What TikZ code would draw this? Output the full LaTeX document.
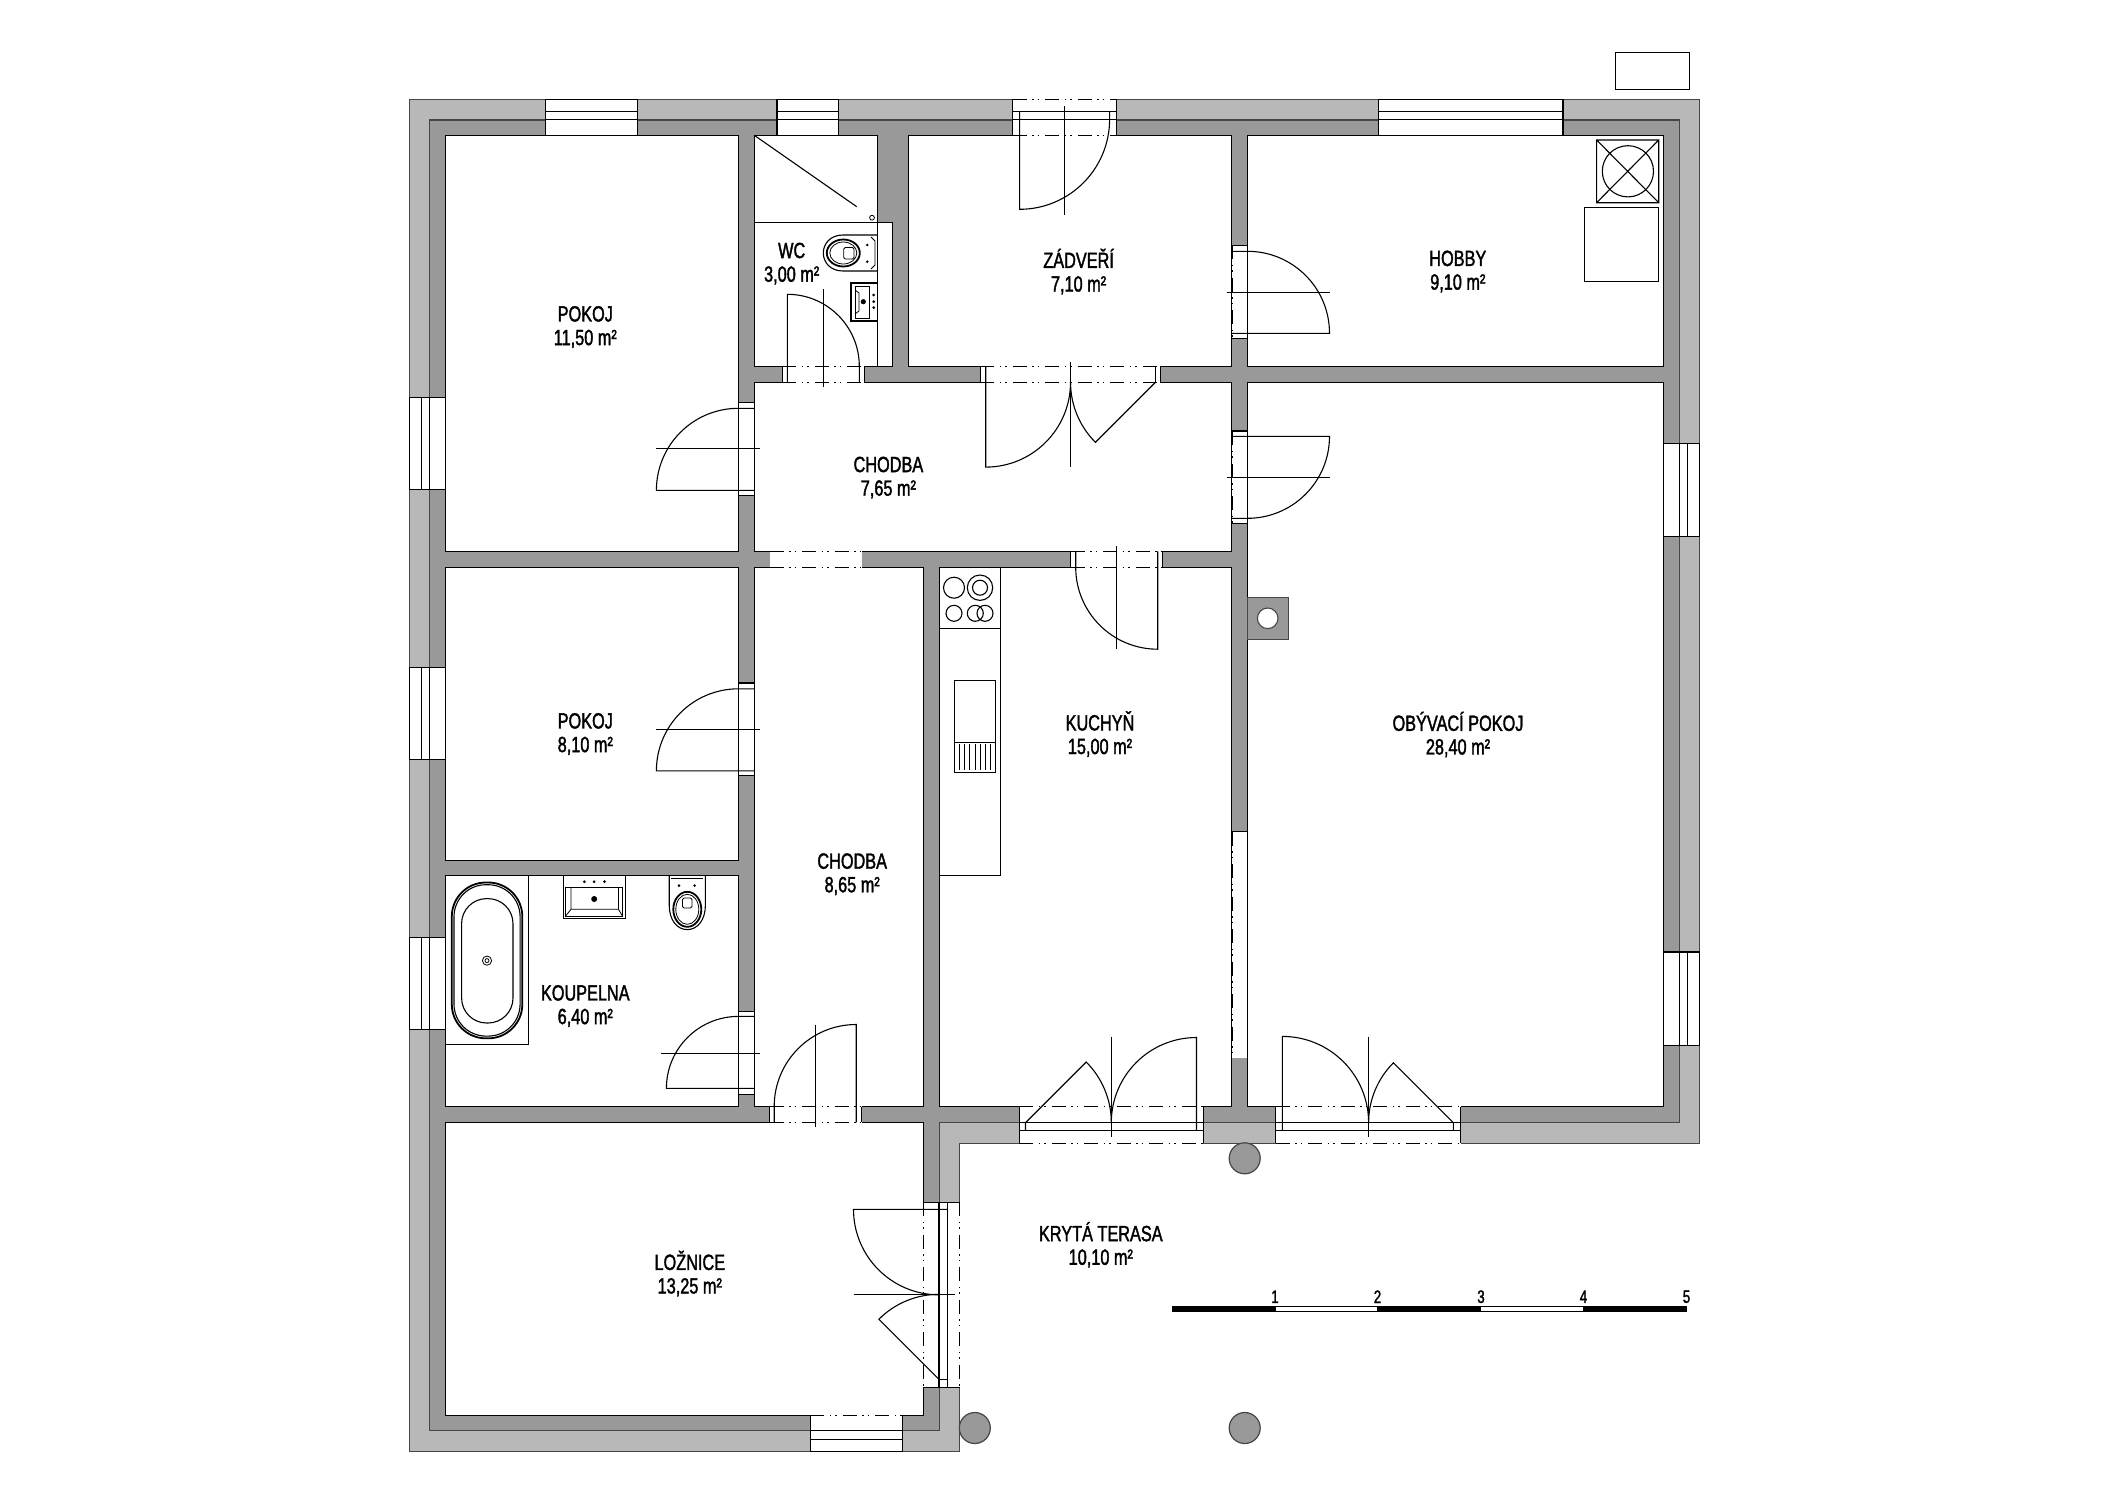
\documentclass[tikz,border=0pt]{standalone}
\usepackage{fontspec}
\setmainfont[FakeStretch=0.74,FakeBold=1.6]{Liberation Sans}
\definecolor{wallgrey}{RGB}{153, 153, 153}
\definecolor{bandgrey}{RGB}{184, 184, 184}
\definecolor{edgegrey}{RGB}{70, 70, 70}
\begin{document}
\begin{tikzpicture}
  [
    x=1pt, y=-1pt,
    plan/.style={line width=1.2pt, line join=miter},
    band/.style={plan, draw=edgegrey, fill=bandgrey},
    wall/.style={plan, draw=edgegrey, fill=wallgrey},
    room/.style={plan, draw=black, fill=white},
    gap/.style={fill=white, draw=none},
    fitting/.style={line width=1.1pt},
    thin fitting/.style={line width=0.8pt},
    bold fitting/.style={line width=1.8pt},
    dashdot/.style={line width=1.1pt, dash pattern=on 14pt off 5.5pt on 1.5pt off 4pt on 1.5pt off 6pt},
    column/.style={plan, draw=edgegrey, fill=wallgrey},
    label/.style={align=center, inner sep=0pt, yshift=-2pt, font=\fontsize{22}{23.6}\selectfont},
    tick/.style={inner sep=0pt, font=\fontsize{18}{18}\selectfont}
  ]
  \useasboundingbox (0, 0) rectangle (2117, 1497);
  \fill[white] (0, 0) rectangle (2117, 1497);

  \draw[plan] (1615.2, 52.3) rectangle (1689.6, 89.3);

  \draw[band] (409.5, 99.3) -- (1699.4, 99.3) -- (1699.4, 1143.3) -- (959.6, 1143.3) -- (959.6, 1451.3) -- (409.5, 1451.3) -- cycle;
  \draw[wall] (429.5, 120) -- (1679.7, 120) -- (1679.7, 1122.7) -- (939.2, 1122.7) -- (939.2, 1430.7) -- (429.5, 1430.7) -- cycle;

  \draw[room] (445.5, 135.3) rectangle (738.4, 551.4);
  \draw[room] (445.5, 567.2) rectangle (738.4, 860.3);
  \draw[room] (445.5, 875.6) rectangle (738.4, 1106.5);
  \draw[room] (445.5, 1122.4) rectangle (923.5, 1415.3);
  \draw[room] (754.3, 382.3) rectangle (1231.5, 551.4);
  \draw[room] (754.3, 567.2) rectangle (923.7, 1106.5);
  \draw[room] (754.3, 135.3) -- (877.3, 135.3) -- (877.3, 222.3) -- (892.6, 222.3) -- (892.6, 366.3) -- (754.3, 366.3) -- cycle;
  \draw[room] (908.5, 135.3) rectangle (1231.5, 366.3);
  \draw[room] (1247.5, 135.3) rectangle (1663.5, 366.3);
  \draw[room] (1247.5, 382.3) rectangle (1663.5, 1106.7);
  \draw[room] (939.3, 567.2) rectangle (1231.7, 1106.7);

  % chimney
  \draw[wall] (1247.5, 597.3) rectangle (1288.7, 639.3);
  \draw[fitting, draw=edgegrey, fill=white] (1267.7, 618.3) circle[radius=10.3];

  % columns
  \draw[column] (1244.7, 1158.3) circle[radius=15.5];
  \draw[column] (1244.7, 1428) circle[radius=15.5];
  \draw[column] (974.8, 1428) circle[radius=15.5];

  % windows
  \fill[gap] (545.5, 98.6) rectangle (637.5, 136);
  \fill[gap] (777, 98.6) rectangle (838.4, 136);
  \fill[gap] (1378.8, 98.6) rectangle (1563, 136);
  \foreach \xa/\xb in {545.5/637.5, 777/838.4, 1378.8/1563}
    \draw[fitting] (\xa, 99.3) rectangle (\xb, 135.3) (\xa, 111.3) -- (\xb, 111.3) (\xa, 119.3) -- (\xb, 119.3);

  \foreach \ya/\yb in {397.3/489.7, 667.4/759.3, 937.2/1029.5} {
    \fill[gap] (408.8, \ya) rectangle (446.2, \yb);
    \draw[fitting] (409.5, \ya) rectangle (445.5, \yb) (421.4, \ya) -- (421.4, \yb) (429.5, \ya) -- (429.5, \yb);
  }

  \foreach \ya/\yb in {443.3/536.3, 952/1045.3} {
    \fill[gap] (1664.2, \ya) rectangle (1700.1, \yb);
    \draw[fitting] (1663.5, \ya) -- (1699.4, \ya) -- (1699.4, \yb) -- (1663.5, \yb) (1679.7, \ya) -- (1679.7, \yb) (1687.6, \ya) -- (1687.6, \yb);
    \draw[dashdot] (1663.5, \ya) -- (1663.5, \yb);
  }

  \fill[gap] (810.4, 1414.6) rectangle (902.6, 1452);
  \draw[fitting] (810.4, 1415.3) -- (810.4, 1451.3) -- (902.6, 1451.3) -- (902.6, 1415.3) (810.4, 1430.7) -- (902.6, 1430.7) (810.4, 1439.3) -- (902.6, 1439.3);
  \draw[dashdot] (810.4, 1415.3) -- (902.6, 1415.3);

  % openings in the inner walls
  \fill[gap] (769.6, 550.7) rectangle (861.6, 567.9);
  \draw[dashdot] (769.6, 551.4) -- (861.6, 551.4) (769.6, 567.2) -- (861.6, 567.2);

  \fill[gap] (1231.9, 831.7) rectangle (1247.1, 1058.3);
  \draw[fitting] (1231.7, 831.7) -- (1247.3, 831.7);
  \draw[dashdot] (1232.3, 831.7) -- (1232.3, 1058.3) (1247.3, 831.7) -- (1247.3, 1058.3);

  % hobby door
  \fill[gap] (1231.9, 245.3) rectangle (1247.1, 338.3);
  \draw[fitting] (1231.5, 245.3) -- (1247.5, 245.3) (1231.5, 338.3) -- (1247.5, 338.3);
  \draw[dashdot] (1232.7, 245.3) -- (1232.7, 338.3) (1247.5, 245.3) -- (1247.5, 338.3);
  \draw[fitting] (1231.5, 333.3) -- (1329.5, 333.3) arc[start angle=0, end angle=-90, radius=82] -- (1231.5, 251.3);
  \draw[fitting] (1226.5, 292.3) -- (1330, 292.3);

  % living room door
  \fill[gap] (1231.9, 431) rectangle (1247.1, 523.3);
  \draw[fitting] (1231.5, 431) -- (1247.5, 431) (1231.5, 523.3) -- (1247.5, 523.3);
  \draw[dashdot] (1232.7, 431) -- (1232.7, 523.3) (1247.5, 431) -- (1247.5, 523.3);
  \draw[fitting] (1231.5, 436.3) -- (1329.5, 436.3) arc[start angle=0, end angle=90, radius=82] -- (1231.5, 518.3);
  \draw[fitting] (1226.5, 477.3) -- (1330, 477.3);

  % room doors from the corridor
  \fill[gap] (738.8, 402.3) rectangle (754, 495.3);
  \draw[fitting] (738.4, 402.3) -- (754.3, 402.3) (738.4, 495.3) -- (754.3, 495.3);
  \draw[dashdot] (738.4, 402.3) -- (738.4, 495.3) (754.3, 402.3) -- (754.3, 495.3);
  \draw[fitting] (754.3, 490.3) -- (656.4, 490.3) arc[start angle=180, end angle=270, radius=82] -- (754.3, 408.3);
  \draw[fitting] (655.8, 448.3) -- (759.8, 448.3);

  \fill[gap] (738.8, 683) rectangle (754, 775.4);
  \draw[fitting] (738.4, 683) -- (754.3, 683) (738.4, 775.4) -- (754.3, 775.4);
  \draw[dashdot] (738.4, 683) -- (738.4, 775.4) (754.3, 683) -- (754.3, 775.4);
  \draw[fitting] (754.3, 770.8) -- (656.4, 770.8) arc[start angle=180, end angle=270, radius=82] -- (754.3, 688.8);
  \draw[fitting] (655.8, 729.4) -- (759.8, 729.4);

  \fill[gap] (738.8, 1011.9) rectangle (754, 1094.5);
  \draw[fitting] (738.4, 1011.9) -- (754.3, 1011.9) (738.4, 1094.5) -- (754.3, 1094.5);
  \draw[dashdot] (738.4, 1011.9) -- (738.4, 1094.5) (754.3, 1011.9) -- (754.3, 1094.5);
  \draw[fitting] (754.3, 1088.4) -- (666.4, 1088.4) arc[start angle=180, end angle=270, radius=72] -- (754.3, 1016.4);
  \draw[fitting] (661, 1053.2) -- (759.8, 1053.2);

  % wc door
  \fill[gap] (782.3, 365.9) rectangle (864.3, 382.7);
  \draw[fitting] (782.3, 366.3) -- (782.3, 382.3) (864.3, 366.3) -- (864.3, 382.3);
  \draw[dashdot] (782.3, 366.3) -- (864.3, 366.3) (782.3, 382.3) -- (864.3, 382.3);
  \draw[fitting] (787.3, 382.3) -- (787.3, 294.3) arc[start angle=-90, end angle=0, radius=72] -- (859.3, 382.3);
  \draw[fitting] (823.3, 289.3) -- (823.3, 387.3);

  % kitchen door
  \fill[gap] (1070.7, 551) rectangle (1162.3, 567.6);
  \draw[fitting] (1070.7, 551.4) -- (1070.7, 567.2) (1162.3, 551.4) -- (1162.3, 567.2);
  \draw[dashdot] (1070.7, 551.4) -- (1162.3, 551.4) (1070.7, 567.2) -- (1162.3, 567.2);
  \draw[fitting] (1157.7, 551.4) -- (1157.7, 649.2) arc[start angle=90, end angle=180, radius=82] -- (1075.7, 551.4);
  \draw[fitting] (1116.7, 546) -- (1116.7, 649.3);

  % bedroom door from the corridor
  \fill[gap] (769.6, 1106.1) rectangle (861.6, 1122.8);
  \draw[fitting] (769.6, 1106.5) -- (769.6, 1122.4) (861.6, 1106.5) -- (861.6, 1122.4);
  \draw[dashdot] (769.6, 1106.5) -- (861.6, 1106.5) (769.6, 1122.4) -- (861.6, 1122.4);
  \draw[fitting] (856.2, 1122.4) -- (856.2, 1024.5) arc[start angle=-90, end angle=-180, radius=82] -- (774.2, 1122.4);
  \draw[fitting] (815.6, 1024.5) -- (815.6, 1127.4);

  % double door between zadveri and corridor
  \fill[gap] (980.4, 365.9) rectangle (1160.1, 382.7);
  \draw[fitting] (980.4, 366.3) -- (980.4, 382.3) (1160.1, 366.3) -- (1160.1, 382.3) (1155.4, 366.3) -- (1155.4, 382.3);
  \draw[dashdot] (980.4, 366.3) -- (1160.1, 366.3) (980.4, 382.3) -- (1160.1, 382.3);
  \draw[fitting] (985.7, 366.3) -- (985.7, 467.1) arc[start angle=90, end angle=0, radius=84.8];
  \draw[fitting] (1155.4, 382.3) -- (1095.4, 442.3) arc[start angle=135, end angle=180, radius=84.9];
  \draw[fitting] (1070.5, 361.7) -- (1070.5, 466.7);

  % back door
  \fill[gap] (1012.5, 98.6) rectangle (1116.2, 136);
  \draw[fitting] (1012.5, 99.3) -- (1012.5, 135.3) (1116.2, 99.3) -- (1116.2, 135.3) (1012.5, 111.3) -- (1116.2, 111.3) (1012.5, 119.3) -- (1116.2, 119.3);
  \draw[dashdot] (1012.5, 99.3) -- (1116.2, 99.3) (1012.5, 135.3) -- (1116.2, 135.3);
  \draw[fitting] (1019.6, 111.3) -- (1019.6, 209.3) arc[start angle=90, end angle=0, radius=90] -- (1109.6, 111.3);
  \draw[fitting] (1064.3, 106) -- (1064.3, 214.7);

  % terrace doors
  \fill[gap] (1019.2, 1106) rectangle (1203.3, 1144);
  \fill[gap] (1275.5, 1106) rectangle (1460.7, 1144);
  \foreach \xa/\xb in {1019.2/1203.3, 1275.5/1460.7} {
    \draw[fitting] (\xa, 1106.7) -- (\xa, 1143.3) (\xb, 1106.7) -- (\xb, 1143.3) (\xa, 1122.7) -- (\xb, 1122.7) (\xa, 1130.3) -- (\xb, 1130.3);
    \draw[dashdot] (\xa, 1106.7) -- (\xb, 1106.7) (\xa, 1143.3) -- (\xb, 1143.3);
  }
  \draw[fitting] (1025.5, 1130.3) -- (1025.5, 1122.7) -- (1086.2, 1062) arc[start angle=-45, end angle=0, radius=85.8];
  \draw[fitting] (1196.5, 1130.3) -- (1196.5, 1037.5) arc[start angle=-90, end angle=-180, radius=85.2];
  \draw[fitting] (1111.3, 1036.7) -- (1111.3, 1137.3);
  \draw[fitting] (1282.3, 1130.3) -- (1282.3, 1036.4) arc[start angle=-90, end angle=0, radius=86.3];
  \draw[fitting] (1453.3, 1130.3) -- (1453.3, 1122.7) -- (1393.4, 1062.8) arc[start angle=-135, end angle=-180, radius=84.7];
  \draw[fitting] (1368.6, 1036.7) -- (1368.6, 1137.3);

  % bedroom terrace door
  \fill[gap] (923.1, 1202.3) rectangle (960, 1387.3);
  \draw[fitting] (923.5, 1202.3) -- (959.6, 1202.3) (923.5, 1387.3) -- (959.6, 1387.3) (939, 1202.3) -- (939, 1387.3) (947.7, 1202.3) -- (947.7, 1387.3) (939, 1379.3) -- (947.7, 1379.3);
  \draw[dashdot] (923.5, 1202.3) -- (923.5, 1387.3) (959.6, 1202.3) -- (959.6, 1387.3);
  \draw[fitting] (947.7, 1209.3) -- (853.5, 1209.3) arc[start angle=180, end angle=90, radius=85.5];
  \draw[fitting] (939, 1379.3) -- (878.9, 1319.2) arc[start angle=225, end angle=270, radius=85];
  \draw[fitting] (853.5, 1294.3) -- (955.2, 1294.3);

  % wc and shower
  \draw[fitting] (754.3, 222.3) -- (877.3, 222.3) (877.3, 135.3) -- (877.3, 366.3);
  \draw[fitting] (754.3, 135.3) -- (856.7, 206.7);
  \draw[thin fitting] (872, 217.7) circle[radius=2.4];
  \draw[fitting] (877.3, 235) -- (843, 235) .. controls (830, 235) and (823.3, 244) .. (823.3, 253) .. controls (823.3, 262) and (830, 271) .. (843, 271) -- (877.3, 271);
  \draw[bold fitting] (843.3, 253) ellipse[x radius=16.5, y radius=13.5];
  \draw[thin fitting] (843.3, 253) ellipse[x radius=13.5, y radius=11];
  \draw[thin fitting, rounded corners=1.5pt] (843.7, 247.5) rectangle (854, 259);
  \fill (867.3, 245) circle[radius=1.4] (867.3, 261.7) circle[radius=1.4];
  \draw[thin fitting] (871, 237) -- (875, 241) -- (875, 265) -- (871, 269);

  \draw[bold fitting] (877.3, 283.3) -- (851.3, 283.3) -- (851.3, 320.7) -- (877.3, 320.7);
  \draw[thin fitting] (855, 286) rectangle (869.3, 318.3);
  \draw[thin fitting] (855, 290) -- (859, 293) -- (859, 311) -- (855, 314);
  \fill (863.3, 301.7) circle[radius=2.6];
  \fill (873.7, 295) circle[radius=1.5] (873.7, 301.7) circle[radius=1.5] (873.7, 307.7) circle[radius=1.5];

  % bathroom
  \draw[fitting] (528.6, 875.6) -- (528.6, 1044.8) -- (445.5, 1044.8);
  \draw[bold fitting, rounded corners=34pt] (451.8, 882.5) rectangle (522.3, 1038.3);
  \draw[fitting, rounded corners=32pt] (454, 884.7) rectangle (520.1, 1036.1);
  \draw[fitting, rounded corners=25pt] (461.6, 898.6) rectangle (513, 1023);
  \draw[thin fitting] (487, 960.6) circle[radius=4.6] (487, 960.6) circle[radius=2];

  \draw[fitting] (563.4, 875.6) rectangle (625.4, 918.5);
  \draw[thin fitting] (565.2, 887.5) -- (622.7, 887.5) -- (622.7, 916.5) -- (565.2, 916.5) -- cycle;
  \draw[thin fitting] (571, 887.5) -- (571, 909.3) -- (618.5, 909.3) -- (618.5, 887.5) (565.2, 916.5) -- (571, 909.3) (622.7, 916.5) -- (618.5, 909.3);
  \fill (594.2, 899) circle[radius=3];
  \fill (584.4, 881.7) circle[radius=1.5] (594.2, 881.7) circle[radius=1.5] (604.5, 881.7) circle[radius=1.5];

  \draw[fitting] (669.2, 875.6) -- (669.2, 905) .. controls (669.2, 920) and (677, 929.6) .. (687.3, 929.6) .. controls (697.5, 929.6) and (705.4, 920) .. (705.4, 905) -- (705.4, 875.6);
  \draw[thin fitting] (671, 878) -- (703, 878);
  \draw[bold fitting] (687.3, 909.3) ellipse[x radius=14, y radius=17.5];
  \draw[thin fitting] (687.3, 909.3) ellipse[x radius=11.5, y radius=15];
  \draw[thin fitting, rounded corners=1.5pt] (682.5, 898) rectangle (692, 908);
  \fill (679, 885.6) circle[radius=1.4] (694.6, 885.6) circle[radius=1.4];

  % kitchen units
  \draw[fitting] (939.3, 628.3) -- (1000.3, 628.3) (1000.3, 567.2) -- (1000.3, 875.3) -- (939.3, 875.3);
  \draw[fitting] (954, 587.7) circle[radius=10.5];
  \draw[fitting] (980, 587.7) circle[radius=12.7] (980, 587.7) circle[radius=7.5];
  \draw[fitting] (954, 613.3) circle[radius=8];
  \draw[fitting] (975.3, 613.3) circle[radius=8] (985, 613.3) circle[radius=8];
  \draw[fitting] (954.3, 680.3) rectangle (995.7, 772.3) (954.3, 742.3) -- (995.7, 742.3);
  \foreach \xa in {959.3, 964.5, 969.7, 974.9, 980.1, 985.3, 990.5}
    \draw[thin fitting] (\xa, 744) -- (\xa, 770);

  % boiler and tank
  \draw[fitting] (1596.6, 140) rectangle (1658.7, 202.7) (1596.6, 140) -- (1658.7, 202.7) (1596.6, 202.7) -- (1658.7, 140);
  \draw[fitting] (1627.9, 171.3) circle[radius=25.6];
  \draw[fitting] (1584.4, 207.3) rectangle (1658.7, 281.3);

  % scale bar
  \fill (1172, 1306) rectangle (1275.5, 1312);
  \draw[thin fitting] (1275.5, 1306.4) rectangle (1377, 1311.6);
  \fill (1377, 1306) rectangle (1480.5, 1312);
  \draw[thin fitting] (1480.5, 1306.4) rectangle (1583, 1311.6);
  \fill (1583, 1306) rectangle (1687, 1312);
  \node[tick] (one) at (1275, 1296.7) {1};
  \node[tick] (two) at (1377.5, 1296.7) {2};
  \node[tick] (three) at (1481, 1296.7) {3};
  \node[tick] (four) at (1583.5, 1296.7) {4};
  \node[tick] (five) at (1686.5, 1296.7) {5};

  \node[label] (pokojtop) at (585.3, 325) {POKOJ\\11,50 m²};
  \node[label] (wc) at (791.7, 261.6) {WC\\3,00 m²};
  \node[label] (zadveri) at (1078.6, 269.5) {ZÁDVEŘÍ\\7,10 m²};
  \node[label] (hobby) at (1457.8, 269.5) {HOBBY\\9,10 m²};
  \node[label] (chodbatop) at (888.4, 475.6) {CHODBA\\7,65 m²};
  \node[label] (pokojmid) at (585.3, 732) {POKOJ\\8,10 m²};
  \node[label] (chodbalow) at (852.2, 872.2) {CHODBA\\8,65 m²};
  \node[label] (koupelna) at (585.3, 1004) {KOUPELNA\\6,40 m²};
  \node[label] (kuchyn) at (1100, 732) {KUCHYŇ\\15,00 m²};
  \node[label] (obyvaci) at (1458, 732.5) {OBÝVACÍ POKOJ\\28,40 m²};
  \node[label] (terasa) at (1100.8, 1242.8) {KRYTÁ TERASA\\10,10 m²};
  \node[label] (loznice) at (689.8, 1271.5) {LOŽNICE\\13,25 m²};
\end{tikzpicture}
\end{document}
